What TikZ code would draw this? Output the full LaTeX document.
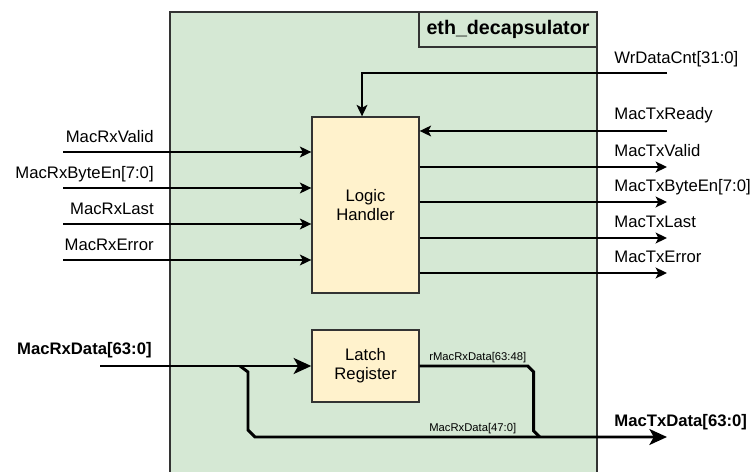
\documentclass[tikz,border=0pt]{standalone}
\usepackage{fontspec}
\setmainfont{Liberation Sans}
\usetikzlibrary{arrows.meta}
\definecolor{modgreen}{HTML}{D5E8D4}
\definecolor{blkyellow}{HTML}{FFF2CC}
\definecolor{edge}{HTML}{333333}
\begin{document}
\begin{tikzpicture}[x=0.02cm, y=-0.02cm,
  every node/.style={font=\fontsize{9.5}{11}\selectfont},
  modbox/.style={draw=edge, line width=1.1pt, fill=modgreen, minimum width=8.54cm, minimum height=9.28cm, inner sep=0},
  titlebox/.style={draw=edge, line width=1.1pt, fill=modgreen, minimum width=3.56cm, minimum height=0.7cm, inner sep=0, font=\fontsize{11.2}{13}\selectfont\bfseries},
  blk/.style={draw=edge, line width=0.8pt, fill=blkyellow, minimum width=2.14cm, align=center, inner sep=0},
  lbl/.style={inner sep=0},
  buslbl/.style={inner sep=0, font=\fontsize{9.5}{11}\selectfont\bfseries},
  tinylbl/.style={inner sep=0, font=\fontsize{6.4}{7}\selectfont},
  sig/.style={line width=0.85pt, -{Stealth[length=6.5pt, width=6.2pt, inset=1.6pt]}},
  bus/.style={line width=1.7pt},
  busarrow/.style={line width=1.7pt, -{Stealth[length=10pt, width=9pt, inset=2.5pt]}}]
\fill[white] (0,0) rectangle (753,472);
\useasboundingbox (0,0) rectangle (753,472);
\node[modbox] (mod) at (383.5,244){};
\node[titlebox, anchor=north east] (title) at (mod.north east){eth\_decapsulator};
\node[blk, minimum height=3.52cm] (handler) at (365.5,205){Logic\\Handler};
\node[blk, minimum height=1.44cm] (latch) at (365.5,366){Latch\\Register};
\coordinate (rxvalid) at (63,152);
\coordinate (rxbyteen) at (63,188);
\coordinate (rxlast) at (63,224);
\coordinate (rxerror) at (63,260);
\coordinate (wrcnt) at (667,73);
\coordinate (txready) at (667,131);
\coordinate (txvalid) at (667,167);
\coordinate (txbyteen) at (667,202);
\coordinate (txlast) at (667,238);
\coordinate (txerror) at (667,273);
\coordinate (rxdata) at (100,366);
\coordinate (rxsplit) at (240,366);
\coordinate (txdata) at (667,437);
\draw[sig](rxvalid) -- (rxvalid -| handler.west);
\draw[sig](rxbyteen) -- (rxbyteen -| handler.west);
\draw[sig](rxlast) -- (rxlast -| handler.west);
\draw[sig](rxerror) -- (rxerror -| handler.west);
\draw[sig](wrcnt) -| ([xshift=-0.07cm]handler.north);
\draw[sig](txready) -- (txready -| handler.east);
\draw[sig](txvalid -| handler.east) -- (txvalid);
\draw[sig](txbyteen -| handler.east) -- (txbyteen);
\draw[sig](txlast -| handler.east) -- (txlast);
\draw[sig](txerror -| handler.east) -- (txerror);
\draw[busarrow](rxdata) -- (latch.west);
\draw[busarrow](rxsplit) -- ++(8,6) -- ++(0,58) -- ++(7,7) -- (txdata);
\draw[bus](latch.east) -- ++(108,0) -- ++(6,6) -- ++(0,59) -- ++(6,6);
\node[lbl, anchor=base east] (lrxvalid) at (154,143){MacRxValid};
\node[lbl, anchor=base east] (lrxbyteen) at (154,179){MacRxByteEn[7:0]};
\node[lbl, anchor=base east] (lrxlast) at (154,215){MacRxLast};
\node[lbl, anchor=base east] (lrxerror) at (154,251){MacRxError};
\node[lbl, anchor=base west] (lwrcnt) at (614,64){WrDataCnt[31:0]};
\node[lbl, anchor=base west] (ltxready) at (614,120){MacTxReady};
\node[lbl, anchor=base west] (ltxvalid) at (614,157){MacTxValid};
\node[lbl, anchor=base west] (ltxbyteen) at (614,192){MacTxByteEn[7:0]};
\node[lbl, anchor=base west] (ltxlast) at (614,228){MacTxLast};
\node[lbl, anchor=base west] (ltxerror) at (614,263){MacTxError};
\node[buslbl, anchor=base east] (lrxdata) at (152,355){MacRxData[63:0]};
\node[buslbl, anchor=base west] (ltxdata) at (614,426){MacTxData[63:0]};
\node[tinylbl, anchor=base west] (lrlatch) at (429,360){rMacRxData[63:48]};
\node[tinylbl, anchor=base west] (lpass) at (429,431){MacRxData[47:0]};
\end{tikzpicture}
\end{document}
